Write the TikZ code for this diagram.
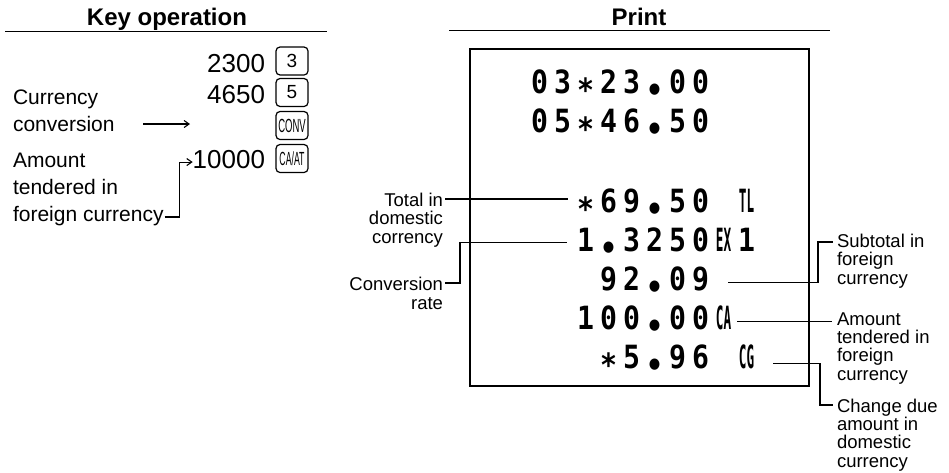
\documentclass[tikz,border=0pt]{standalone}
\usepackage{fontspec}
\setmainfont{Liberation Sans}
\newfontfamily\prfont{DejaVu Sans Mono}[FakeStretch=0.88]
\usetikzlibrary{arrows.meta}
\newcommand\pc[1]{\makebox[23pt]{#1}}
\newcommand\past{\raisebox{-0.28em}{*}}
\newcommand\pdt{\raisebox{-0.25em}{•}}
\newcommand\psym[1]{\scalebox{0.45}[1]{#1}}
\begin{document}
\begin{tikzpicture}[x=1pt,y=-1pt,
  lbl/.style={inner sep=0pt, outer sep=0pt, font=\fontsize{21}{27}\selectfont, align=left},
  num/.style={inner sep=0pt, outer sep=0pt, font=\fontsize{26}{30}\selectfont},
  keybox/.style={draw, line width=1.2pt, rounded corners=4pt, minimum width=32pt, minimum height=28pt, inner sep=0pt, font=\fontsize{19}{19}\selectfont},
  hdr/.style={inner sep=0pt, font=\fontsize{24}{24}\selectfont\bfseries},
  prt/.style={inner sep=0pt, outer sep=0pt, font=\prfont\bfseries\fontsize{32}{32}\selectfont},
  sm/.style={inner sep=0pt, outer sep=0pt, font=\fontsize{18.5}{18.3}\selectfont},
  conn/.style={line width=1.2pt},
  arr/.style={line width=1.1pt, -{Straight Barb[length=5pt,width=7pt]}},
]
\useasboundingbox (0,0) rectangle (949,472);

% headers
\node[hdr, anchor=base] (hko) at (167,25) {Key operation};
\draw[line width=1.5pt] (5,31.5) -- (327,31.5);
\node[hdr, anchor=base] (hpr) at (639,25) {Print};
\draw[line width=1.5pt] (449,30.5) -- (830,30.5);

% key operation
\node[num, anchor=base east] (n1) at (265,72) {2300};
\node[num, anchor=base east] (n2) at (265,103) {4650};
\node[num, anchor=base east] (n4) at (265,168) {10000};
\node[keybox] (k1) at (292,61) {3};
\node[keybox] (k2) at (292,92.5) {5};
\node[keybox] (k3) at (292,125.5) {\scalebox{0.5}[1]{CONV}};
\node[keybox] (k4) at (292,158.5) {\scalebox{0.46}[1]{CA/AT}};

\node[lbl, anchor=base west] (cc) at (13,131) {Currency\\conversion};
\coordinate (ccA) at (143,124);
\coordinate (ccB) at (190,124);
\draw[arr] (ccA) -- (ccB);

\node[lbl, anchor=base west] (amt) at (13,221) {Amount\\tendered in\\foreign currency};
\draw[arr] ([xshift=1pt,yshift=4pt]amt.base east) -| ([xshift=-13pt,yshift=-3pt]n4.west) -- ([yshift=-3pt]n4.west);

% receipt
\draw[line width=1.5pt] (470,49) rectangle (809,386);
\node[prt, anchor=base west] (p1) at (528,93) {\pc{0}\pc{3}\pc{\past}\pc{2}\pc{3}\pc{\pdt}\pc{0}\pc{0}};
\node[prt, anchor=base west] (p2) at (528,132) {\pc{0}\pc{5}\pc{\past}\pc{4}\pc{6}\pc{\pdt}\pc{5}\pc{0}};
\node[prt, anchor=base west] (p3) at (574,212) {\pc{\past}\pc{6}\pc{9}\pc{\pdt}\pc{5}\pc{0}\pc{}\pc{\psym{TL}}};
\node[prt, anchor=base west] (p4) at (574,251) {\pc{1}\pc{\pdt}\pc{3}\pc{2}\pc{5}\pc{0}\pc{\psym{EX}}\pc{1}};
\node[prt, anchor=base west] (p5) at (597,290) {\pc{9}\pc{2}\pc{\pdt}\pc{0}\pc{9}};
\node[prt, anchor=base west] (p6) at (574,329) {\pc{1}\pc{0}\pc{0}\pc{\pdt}\pc{0}\pc{0}\pc{\psym{CA}}};
\node[prt, anchor=base west] (p7) at (597,368) {\pc{\past}\pc{5}\pc{\pdt}\pc{9}\pc{6}\pc{}\pc{\psym{CG}}};

% receipt labels, left
\node[sm, align=right, anchor=base east] (tot) at (443,243) {Total in\\domestic\\corrency};
\coordinate (t1) at ([xshift=2pt,yshift=44pt]tot.base east);
\draw[conn] (t1) -- ([xshift=-6pt]t1 -| p3.west);

\node[sm, align=right, anchor=base east] (cvr) at (443,309) {Conversion\\rate};
\coordinate (c1) at ([xshift=2pt,yshift=26pt]cvr.base east);
\draw[conn] (c1) -- ++(15,0) |- ([xshift=-7pt,yshift=1pt]p4.west);

% receipt labels, right
\node[sm, align=left, anchor=base west] (sub) at (837,284) {Subtotal in\\foreign\\currency};
\draw[conn] ([xshift=16pt]p5.east) -- ++(90,0) |- ([xshift=-4pt,yshift=42pt]sub.base west);

\node[sm, align=left, anchor=base west] (amn) at (837,380) {Amount\\tendered in\\foreign\\currency};
\draw[conn] ([xshift=2pt]p6.east) -- ([xshift=-5pt]p6.east -| amn.west);

\node[sm, align=left, anchor=base west] (chg) at (837,467) {Change due\\amount in\\domestic\\currency};
\draw[conn] ([xshift=15pt,yshift=-2.5pt]p7.east) -- ++(47,0) |- ([xshift=-4pt,yshift=62pt]chg.base west);
\end{tikzpicture}
\end{document}
